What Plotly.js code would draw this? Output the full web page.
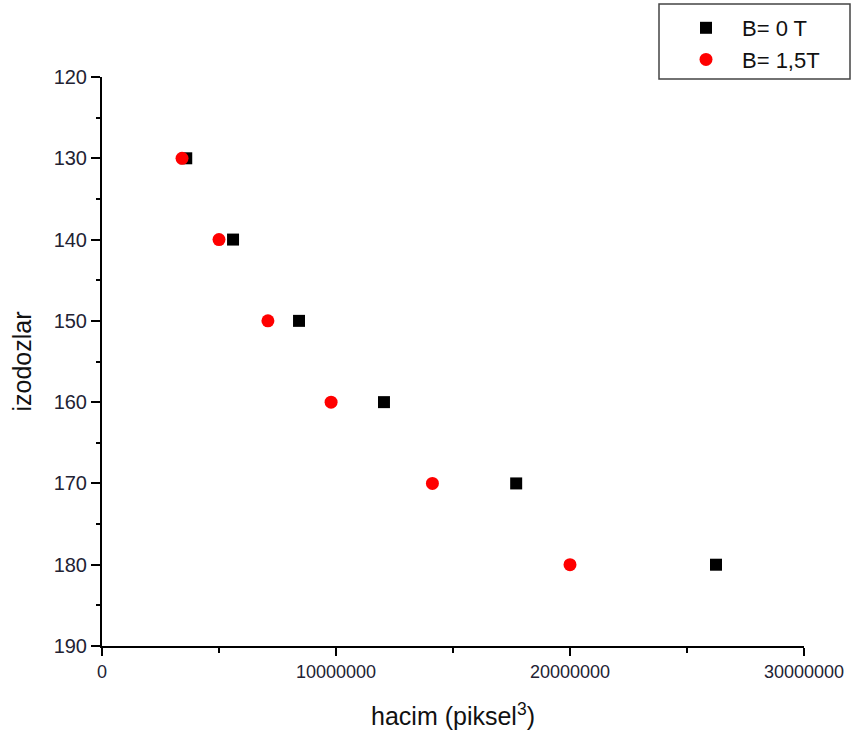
<!DOCTYPE html>
<html>
<head>
<meta charset="utf-8">
<script src="https://cdn.plot.ly/plotly-3.0.1.min.js"></script>
<style>html,body{margin:0;padding:0;background:#fff}</style>
</head>
<body>
<div id="chart" style="width:854px;height:740px"></div>
<script>
const izodozlar = [130, 140, 150, 160, 170, 180];
const hacimB0 = [3600000, 5600000, 8420000, 12050000, 17700000, 26240000];
const hacimB15 = [3420000, 5000000, 7090000, 9790000, 14120000, 20000000];
const seriesNames = ["B= 0 T", "B= 1,5T"];

const traces = [
  {x: hacimB0, y: izodozlar, name: seriesNames[0], legendgroup: "a", type: "scatter", mode: "markers",
   marker: {symbol: "square", size: 12, color: "#000000"}},
  {x: hacimB15, y: izodozlar, name: seriesNames[1], legendgroup: "b", type: "scatter", mode: "markers",
   marker: {symbol: "circle", size: 13, color: "#ff0000"}}
];

// pixel -> paper helpers for the legend frame
const L = 102, R = 804, T = 77, B = 646;
const px = v => (v - L) / (R - L);
const py = v => (B - v) / (B - T);

const layout = {
  width: 854, height: 740,
  margin: {l: 102, r: 50, t: 77, b: 94, autoexpand: false},
  paper_bgcolor: "#fff", plot_bgcolor: "#fff",
  font: {family: "Liberation Sans, Arial, sans-serif", color: "#222"},
  showlegend: true,
  legend: {x: px(670), y: py(7), xanchor: "left", yanchor: "top",
    borderwidth: 0, bgcolor: "rgba(0,0,0,0)", traceorder: "grouped", tracegroupgap: 0,
    font: {size: 22, color: "#111"}, itemwidth: 62},
  shapes: [{type: "rect", xref: "paper", yref: "paper",
    x0: px(659), x1: px(850), y0: py(79), y1: py(4),
    line: {color: "#444", width: 1.5}, fillcolor: "rgba(0,0,0,0)", layer: "below"}],
  xaxis: {
    range: [0, 30000000], dtick: 10000000, tick0: 0,
    showgrid: false, zeroline: false, showline: true, linecolor: "#000", linewidth: 2,
    ticks: "outside", ticklen: 8, tickwidth: 2, tickcolor: "#000",
    tickformat: "d", tickfont: {size: 18, color: "#223", family: "Liberation Sans Narrow, Arial Narrow, Liberation Sans, sans-serif"},
    minor: {dtick: 5000000, ticks: "outside", ticklen: 5, tickwidth: 2, tickcolor: "#000", showgrid: false},
    title: {text: "hacim (piksel<sup>3</sup>)", font: {size: 25, color: "#111"}, standoff: 27}
  },
  yaxis: {
    range: [190, 120], dtick: 10, tick0: 120,
    showgrid: false, zeroline: false, showline: true, linecolor: "#000", linewidth: 2,
    ticks: "outside", ticklen: 9, tickwidth: 2, tickcolor: "#000",
    tickfont: {size: 20, color: "#223"},
    minor: {dtick: 5, ticks: "outside", ticklen: 4, tickwidth: 2, tickcolor: "#000", showgrid: false},
    title: {text: "izodozlar", font: {size: 25, color: "#111"}, standoff: 15}
  }
};

Plotly.newPlot("chart", traces, layout, {displayModeBar: false, staticPlot: true});
</script>
</body>
</html>
